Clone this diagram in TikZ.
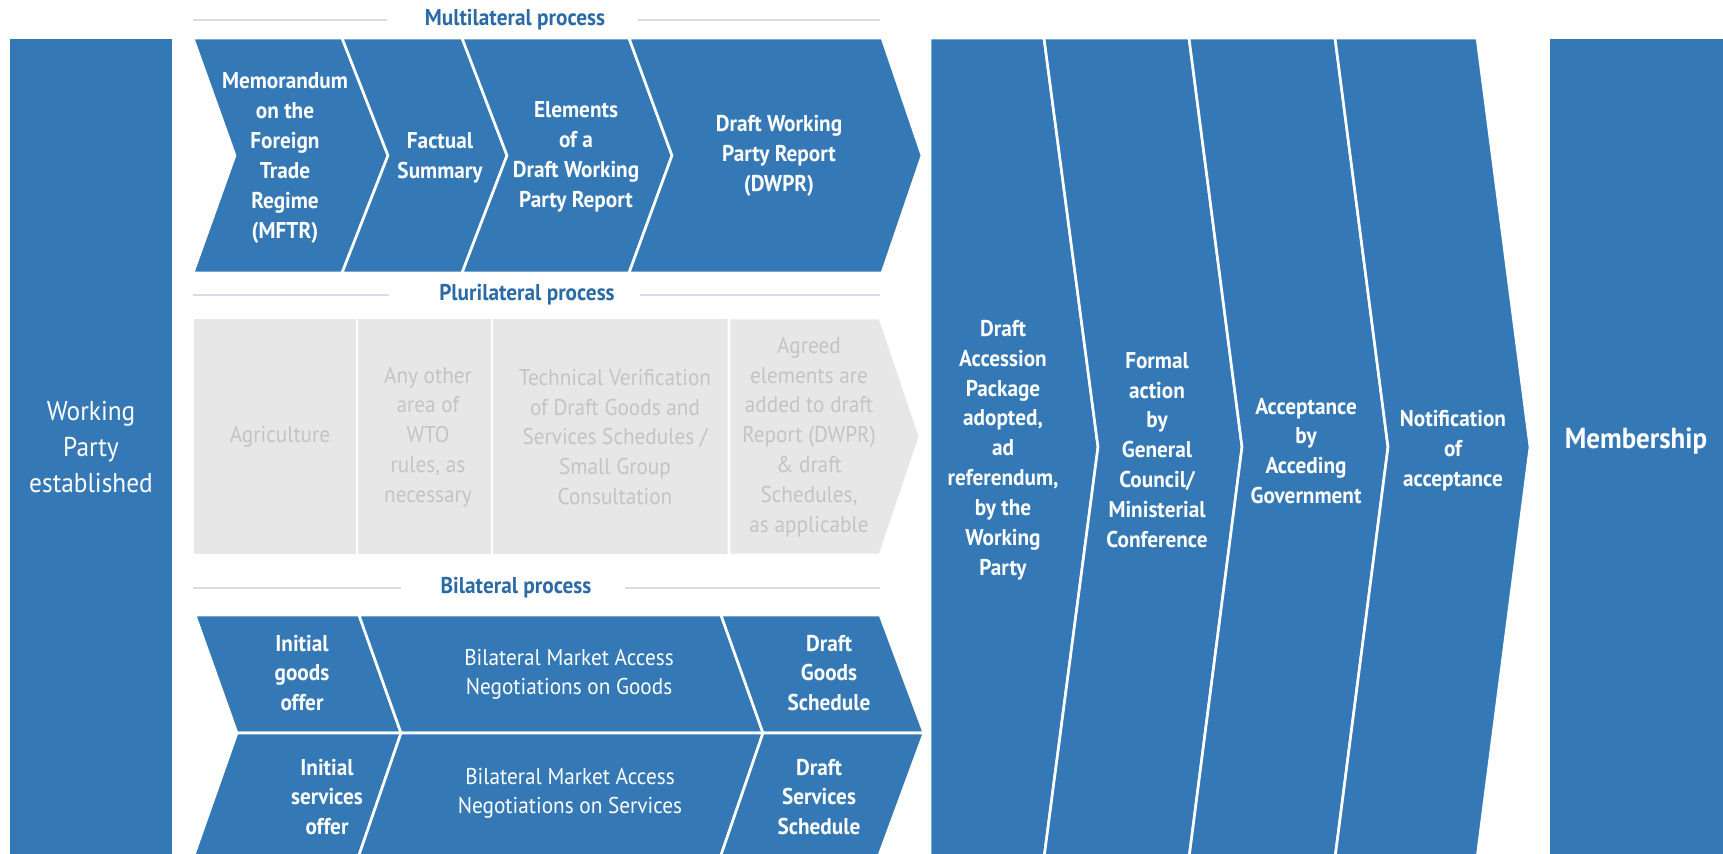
\documentclass[tikz,border=0pt]{standalone}
\usepackage{fontspec}
\setmainfont[FakeStretch=0.93]{PT Sans}
\definecolor{wtoblue}{RGB}{52,121,182}
\definecolor{headblue}{RGB}{42,106,166}
\definecolor{rulegray}{RGB}{212,221,232}
\definecolor{cellgray}{RGB}{231,231,231}
\definecolor{txtgray}{RGB}{196,196,196}

\begin{document}
\begin{tikzpicture}[x=0.02cm, y=-0.02cm]
\tikzset{blk/.style={fill=wtoblue, draw=white, line width=1.5pt, line join=miter},
  grycell/.style={fill=cellgray, draw=white, line width=1.5pt, line join=miter},
  lbl/.style={text=white, align=center, font=\bfseries\fontsize{13}{17}\selectfont},
  lbllight/.style={text=white, align=center, font=\fontsize{13}{16.5}\selectfont},
  grylbl/.style={text=txtgray, align=center, font=\fontsize{13}{17}\selectfont},
  head/.style={text=headblue, font=\bfseries\fontsize{13}{17}\selectfont},
  hline/.style={draw=rulegray, line width=1pt}}
\useasboundingbox (0,0) rectangle (1723,853);

% side blocks
\draw[blk] (9,38) rectangle (173,858);
\draw[blk] (1549,38) rectangle (1730,858);
\node[lbllight, font=\fontsize{15.5}{20.5}\selectfont] (wp) at (91,447) {Working\\Party\\established};
\node[lbl, font=\bfseries\fontsize{16.5}{20}\selectfont] (mem) at (1636,441) {Membership};

% multilateral
\node[head] (mlt) at (515,20) {Multilateral process};
\draw[hline] (193,20) -- (387,20);
\draw[hline] (638,20) -- (880,20);
\draw[blk] (193,38) -- (342,38) -- (388,155.5) -- (342,273) -- (193,273) -- (235,155.5) -- cycle;
\draw[blk] (342,38) -- (462,38) -- (507,155.5) -- (462,273) -- (342,273) -- (388,155.5) -- cycle;
\draw[blk] (462,38) -- (629,38) -- (672,155.5) -- (629,273) -- (462,273) -- (507,155.5) -- cycle;
\draw[blk] (629,38) -- (882,38) -- (922,155.5) -- (882,273) -- (629,273) -- (672,155.5) -- cycle;
\node[lbl] (mftr) at (285,158) {Memorandum\\on the\\Foreign\\Trade\\Regime\\(MFTR)};
\node[lbl] (fs) at (440,158) {Factual\\Summary};
\node[lbl] (el) at (576,157) {Elements\\of a\\Draft Working\\Party Report};
\node[lbl] (dwpr) at (779,156) {Draft Working\\Party Report\\(DWPR)};

% plurilateral
\node[head] (plt) at (527,295) {Plurilateral process};
\draw[hline] (193,295) -- (389,295);
\draw[hline] (640,295) -- (880,295);
\draw[grycell] (193,318) rectangle (357,555);
\draw[grycell] (357,318) rectangle (492,555);
\draw[grycell] (492,318) rectangle (729,555);
\draw[grycell] (729,318) -- (880,318) -- (920,436.5) -- (880,555) -- (729,555) -- cycle;
\node[grylbl] (agr) at (280,437) {Agriculture};
\node[grylbl] (oth) at (428,437) {Any other\\area of\\WTO\\rules, as\\necessary};
\node[grylbl] (tv) at (615,437) {Technical Verification\\of Draft Goods and\\Services Schedules /\\Small Group\\Consultation};
\node[grylbl] (agd) at (809,437) {Agreed\\elements are\\added to draft\\Report (DWPR)\\\& draft\\Schedules,\\as applicable};

% bilateral
\node[head] (blt) at (516,588) {Bilateral process};
\draw[hline] (193,588) -- (401,588);
\draw[hline] (625,588) -- (880,588);
\draw[blk] (195,615) -- (359,615) -- (401,733) -- (237,733) -- cycle;
\draw[blk] (359,615) -- (721,615) -- (763,733) -- (401,733) -- cycle;
\draw[blk] (721,615) -- (880,615) -- (924,733) -- (763,733) -- cycle;
\draw[blk] (237,733) -- (401,733) -- (358,858) -- (193,858) -- cycle;
\draw[blk] (401,733) -- (763,733) -- (720,858) -- (358,858) -- cycle;
\draw[blk] (763,733) -- (924,733) -- (878,858) -- (720,858) -- cycle;
\node[lbl] (igo) at (302,673) {Initial\\goods\\offer};
\node[lbllight] (bmg) at (569,674) {Bilateral Market Access\\Negotiations on Goods};
\node[lbl] (dgs) at (829,673) {Draft\\Goods\\Schedule};
\node[lbl] (iso) at (327,797) {Initial\\services\\offer};
\node[lbllight] (bms) at (570,793) {Bilateral Market Access\\Negotiations on Services};
\node[lbl] (dss) at (819,797) {Draft\\Services\\Schedule};

% final steps
\draw[blk] (930,38) -- (1044,38) -- (1098,447) -- (1044,858) -- (930,858) -- cycle;
\draw[blk] (1044,38) -- (1189,38) -- (1242,447) -- (1189,858) -- (1044,858) -- (1098,447) -- cycle;
\draw[blk] (1189,38) -- (1335,38) -- (1388,447) -- (1335,858) -- (1189,858) -- (1242,447) -- cycle;
\draw[blk] (1335,38) -- (1477,38) -- (1530,447) -- (1477,858) -- (1335,858) -- (1388,447) -- cycle;
\node[lbl] (dap) at (1003,450) {Draft\\Accession\\Package\\adopted,\\ad\\referendum,\\by the\\Working\\Party};
\node[lbl] (gc) at (1157,450) {Formal\\action\\by\\General\\Council/\\Ministerial\\Conference};
\node[lbl] (acc) at (1306,451) {Acceptance\\by\\Acceding\\Government};
\node[lbl] (not) at (1453,451) {Notification\\of\\acceptance};
\end{tikzpicture}
\end{document}
